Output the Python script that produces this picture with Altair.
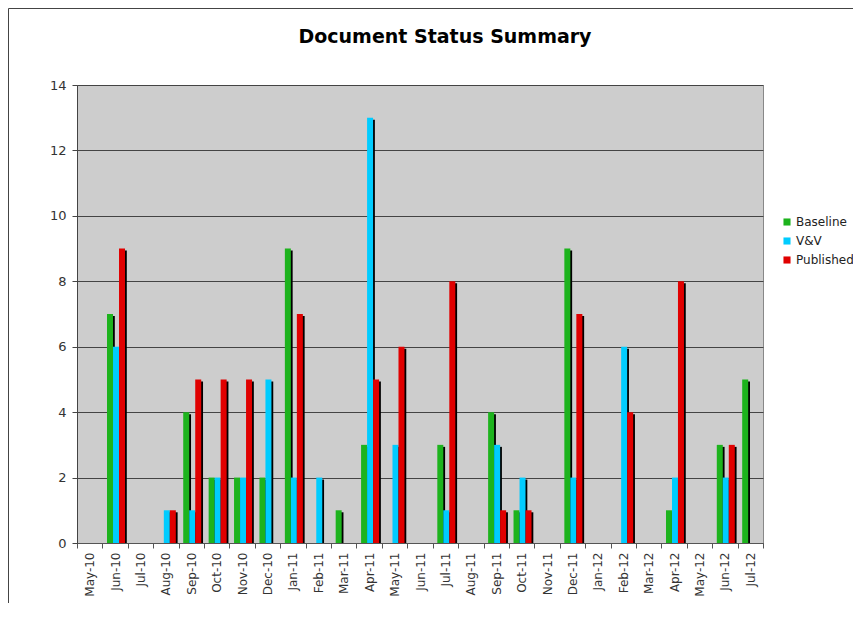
import altair as alt
import pandas as pd

months = ["May-10", "Jun-10", "Jul-10", "Aug-10", "Sep-10", "Oct-10", "Nov-10",
          "Dec-10", "Jan-11", "Feb-11", "Mar-11", "Apr-11", "May-11", "Jun-11",
          "Jul-11", "Aug-11", "Sep-11", "Oct-11", "Nov-11", "Dec-11", "Jan-12",
          "Feb-12", "Mar-12", "Apr-12", "May-12", "Jun-12", "Jul-12"]
baseline = [0, 7, 0, 0, 4, 2, 2, 2, 9, 0, 1, 3, 0, 0, 3, 0, 4, 1, 0, 9, 0, 0, 0, 1, 0, 3, 5]
vv = [0, 6, 0, 1, 1, 2, 2, 5, 2, 2, 0, 13, 3, 0, 1, 0, 3, 2, 0, 2, 0, 6, 0, 2, 0, 2, 0]
published = [0, 9, 0, 1, 5, 5, 5, 0, 7, 0, 0, 5, 6, 0, 8, 0, 1, 1, 0, 7, 0, 4, 0, 8, 0, 3, 0]
series = ["Baseline", "V&V", "Published"]
colors = ["#1DB31D", "#00CCFF", "#E00000"]
y_ticks = [0, 2, 4, 6, 8, 10, 12, 14]

rows = []
for i, m in enumerate(months):
    for s, vals in zip(series, [baseline, vv, published]):
        rows.append({"month": m, "series": s, "value": vals[i]})
df = pd.DataFrame(rows)

W, H = 686, 458
FONT = "DejaVu Sans"

x_axis = alt.Axis(title=None, labelAngle=-90, tickBand="extent", labelFontSize=12,
                  labelColor="#333333", labelFont=FONT, domainColor="#555555",
                  tickColor="#555555", tickSize=5, grid=False, labelPadding=4)
y_axis = alt.Axis(title=None, values=y_ticks, labelFontSize=13, labelColor="#333333",
                  labelFont=FONT, domainColor="#444444", tickColor="#444444",
                  tickSize=5, grid=True, gridColor="#444444", gridWidth=1,
                  labelPadding=6)

x_enc = alt.X("month:N", sort=months, scale=alt.Scale(paddingInner=0, paddingOuter=0),
              axis=x_axis)
y_enc = alt.Y("value:Q", scale=alt.Scale(domain=[0, 14], nice=False), axis=y_axis)

shadow = alt.Chart(df).mark_bar(color="#000000", yOffset=2, clip=True).encode(
    x=x_enc,
    xOffset=alt.XOffset("series:N", sort=series,
                        scale=alt.Scale(range=[6.4, 24.4], paddingInner=0, paddingOuter=0)),
    y=y_enc,
)

bars = alt.Chart(df).mark_bar(clip=True).encode(
    x=x_enc,
    xOffset=alt.XOffset("series:N", sort=series,
                        scale=alt.Scale(range=[4.6, 22.6], paddingInner=0, paddingOuter=0)),
    y=y_enc,
    color=alt.Color("series:N", sort=series,
                    scale=alt.Scale(domain=series, range=colors),
                    legend=alt.Legend(title=None, orient="none", legendX=704, legendY=131,
                                      symbolType="square", symbolSize=50,
                                      symbolStrokeWidth=0, labelFont=FONT,
                                      labelFontSize=12, labelColor="#222222",
                                      rowPadding=7, labelOffset=3)),
)

frame_df = pd.DataFrame({"k": [0]})
frame_top = alt.Chart(frame_df).mark_rule(color="#444444", strokeWidth=1, clip=False).encode(
    x=alt.value(-68.5), x2=alt.value(W + 200), y=alt.value(-76.5))
frame_left = alt.Chart(frame_df).mark_rule(color="#444444", strokeWidth=1, clip=False).encode(
    x=alt.value(-68.5), y=alt.value(-76.5), y2=alt.value(H + 200))

chart = alt.layer(shadow, bars, frame_top, frame_left).resolve_scale(
    xOffset="independent"
).properties(
    width=W, height=H,
    title=alt.TitleParams("Document Status Summary", font=FONT, fontSize=19,
                          fontWeight="bold", color="#000000", offset=-39, dx=25,
                          frame="group", anchor="middle"),
    padding={"left": 69, "top": 77, "right": 90, "bottom": 60},
    autosize=alt.AutoSizeParams(type="none"),
    background="#FFFFFF",
).configure_view(
    fill="#CDCDCD", stroke="#888888", strokeWidth=1
)

chart.save("out.html", embed_options={"renderer": "svg", "actions": False})
